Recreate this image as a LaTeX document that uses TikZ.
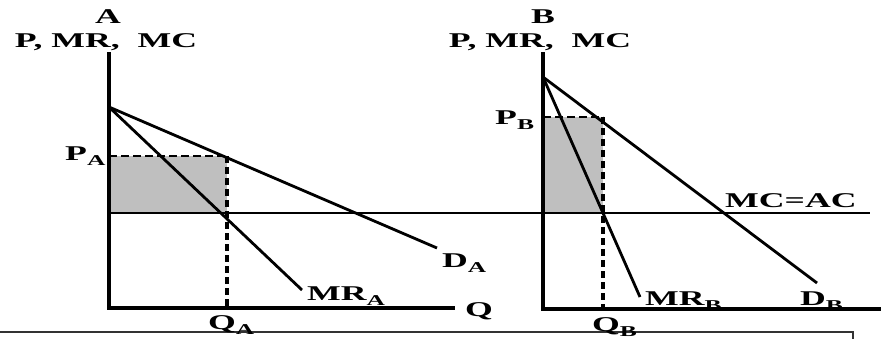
\documentclass[tikz,border=0pt]{standalone}
\usepackage{fontspec}
\newfontfamily\lblfam[FakeStretch=1.7]{Liberation Serif}
\newcommand\sbs[1]{\raisebox{-5pt}{\fontsize{15}{15}\selectfont #1}}
\begin{document}
\begin{tikzpicture}[x=1pt,y=-1pt,
  lbl/.style={font=\lblfam\bfseries\fontsize{21}{21}\selectfont, inner sep=0pt, anchor=base west},
  axisline/.style={line width=4.2pt, line join=miter},
  curveline/.style={line width=2.8pt},
  mcline/.style={line width=2pt},
  dashtop/.style={line width=2.6pt, dash pattern=on 8pt off 4pt},
  dashv/.style={line width=3.6pt, dash pattern=on 7pt off 4pt},
  shade/.style={fill=black!25},
  frameline/.style={line width=2.5pt, black!80}]
\useasboundingbox (0,0) rectangle (881,338);
\fill[white] (0,0) rectangle (881,338);
% ---- coordinates panel A
\coordinate (Atop) at (109,52);
\coordinate (Ao) at (109,308);
\coordinate (Aend) at (455,308);
\coordinate (Ai) at (109,107);
\coordinate (DAend) at (437,248);
\coordinate (MRAend) at (302,290);
\coordinate (PA) at (109,156);
\coordinate (QAtop) at (227,156);
\coordinate (QAmc) at (227,213);
\coordinate (QAbot) at (227,308);
% ---- coordinates panel B
\coordinate (Btop) at (543,52);
\coordinate (Bo) at (543,309);
\coordinate (Bend) at (881,309);
\coordinate (Bi) at (543,77);
\coordinate (DBend) at (817,283);
\coordinate (MRBend) at (640,297);
\coordinate (PB) at (543,117);
\coordinate (QBtop) at (603,117);
\coordinate (QBmc) at (603,213);
\coordinate (QBbot) at (603,309);
% ---- MC line
\coordinate (MCl) at (109,213);
\coordinate (MCr) at (870,213);
% ---- frame
\coordinate (Fl) at (0,332);
\coordinate (Fr) at (853,332);
\coordinate (Fd) at (853,340);
% shaded profit areas
\fill[shade] (PA) rectangle (QAmc);
\fill[shade] (PB) rectangle (QBmc);
% MC = AC
\draw[mcline] (MCl) -- (MCr);
% dashed guides
\draw[dashtop] (PA) -- (QAtop);
\draw[dashv] (QAtop) -- (QAbot);
\draw[dashtop] (PB) -- (QBtop);
\draw[dashv] (QBtop) -- (QBbot);
% demand and MR
\draw[curveline] (Ai) -- (DAend);
\draw[curveline] (Ai) -- (MRAend);
\draw[curveline] (Bi) -- (DBend);
\draw[curveline] (Bi) -- (MRBend);
% axes
\draw[axisline] (Atop) -- (Ao) -- (Aend);
\draw[axisline] (Btop) -- (Bo) -- (Bend);
% frame
\draw[frameline] (Fl) -- (Fr) -- (Fd);
% labels
\node[lbl, anchor=base] (tA) at (108,23) {A};
\node[lbl, anchor=base] (yA) at (106,47) {P, MR,\ \ MC};
\node[lbl, anchor=base] (tB) at (543,23) {B};
\node[lbl, anchor=base] (yB) at (540,47) {P, MR,\ \ MC};
\node[lbl] (lPA) at (65,160) {P\sbs{A}};
\node[lbl] (lPB) at (495,124) {P\sbs{B}};
\node[lbl] (lQA) at (208,329) {Q\sbs{A}};
\node[lbl] (lQB) at (592,331) {Q\sbs{B}};
\node[lbl] (lQ) at (465,316) {Q};
\node[lbl] (lMRA) at (307,300) {MR\sbs{A}};
\node[lbl] (lDA) at (442,267) {D\sbs{A}};
\node[lbl] (lMRB) at (645,305) {MR\sbs{B}};
\node[lbl] (lDB) at (800,305) {D\sbs{B}};
\node[lbl] (lMC) at (725,207) {MC=AC};
\end{tikzpicture}
\end{document}
